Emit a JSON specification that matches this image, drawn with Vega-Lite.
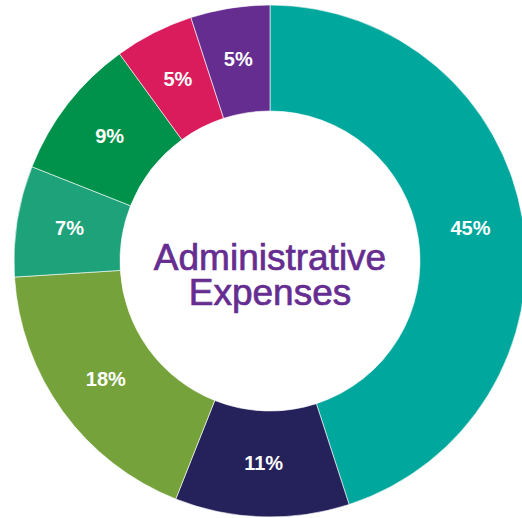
{
  "$schema": "https://vega.github.io/schema/vega-lite/v6.json",
  "width": 540,
  "height": 522,
  "padding": 0,
  "autosize": {"type": "none"},
  "background": "white",
  "config": {"view": {"stroke": null}},
  "layer": [
    {
      "data": {"values": [
        {"category": "A", "rank": 1, "value": 45, "label": "45%"},
        {"category": "B", "rank": 2, "value": 11, "label": "11%"},
        {"category": "C", "rank": 3, "value": 18, "label": "18%"},
        {"category": "D", "rank": 4, "value": 7, "label": "7%"},
        {"category": "E", "rank": 5, "value": 9, "label": "9%"},
        {"category": "F", "rank": 6, "value": 5, "label": "5%"},
        {"category": "G", "rank": 7, "value": 5, "label": "5%"}
      ]},
      "encoding": {
        "theta": {"field": "value", "type": "quantitative", "stack": true},
        "order": {"field": "rank", "type": "quantitative"},
        "color": {
          "field": "category", "type": "nominal", "legend": null,
          "scale": {"domain": ["A","B","C","D","E","F","G"],
                    "range": ["#00A79D","#25215B","#76A23B","#1DA27A","#00924A","#DA1C5C","#662D91"]}
        }
      },
      "layer": [
        {"mark": {"type": "arc", "outerRadius": 256, "innerRadius": 150, "stroke": "white", "strokeWidth": 0.6}},
        {"mark": {"type": "text", "radius": 203, "font": "Liberation Sans", "fontWeight": "bold", "fontSize": 20, "fill": "white", "align": "center", "baseline": "middle"},
         "encoding": {"text": {"field": "label"}, "color": {"value": "white"}}}
      ]
    },
    {
      "data": {"values": [{"title": "Administrative\nExpenses"}]},
      "mark": {"type": "text", "font": "Liberation Sans", "fontSize": 37, "lineHeight": 35, "lineBreak": "\n", "fill": "#662D91", "stroke": "#662D91", "strokeWidth": 0.7, "align": "center", "baseline": "middle", "dy": -2},
      "encoding": {"text": {"field": "title"}, "color": {"value": "#662D91"}}
    }
  ]
}
